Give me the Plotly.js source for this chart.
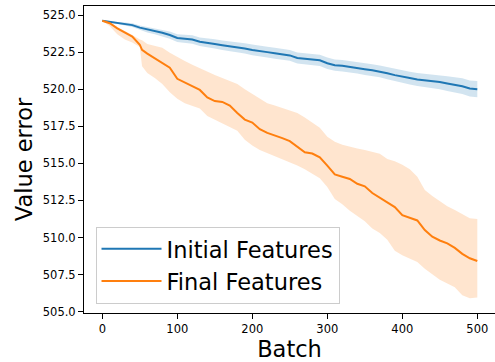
<!DOCTYPE html>
<html>
<head>
<meta charset="utf-8">
<script src="https://cdn.plot.ly/plotly-3.0.1.min.js"></script>
<style>
  html, body { margin: 0; padding: 0; background: #ffffff; overflow: hidden; }
  #chart { width: 495px; height: 362px; }
</style>
</head>
<body>
<div id="chart"></div>
<script>
// Batch index at which each value was recorded
const batches = [0, 10, 20, 30, 40, 50, 53, 60, 70, 80, 90, 100, 110, 120, 130, 140, 150,
  160, 170, 180, 190, 200, 210, 220, 230, 240, 250, 260, 270, 280, 290, 300, 310, 320,
  330, 340, 350, 360, 370, 380, 390, 400, 410, 420, 430, 440, 450, 460, 470, 480, 490, 500];

// Initial features: mean value error and spread
const initialMean = [524.62, 524.55, 524.45, 524.40, 524.32, 524.15, 524.12, 524.00, 523.90,
  523.80, 523.65, 523.45, 523.40, 523.35, 523.20, 523.10, 523.05, 522.97, 522.90, 522.85,
  522.75, 522.65, 522.55, 522.50, 522.42, 522.35, 522.28, 522.10, 522.05, 522.00, 521.95,
  521.75, 521.62, 521.58, 521.52, 521.45, 521.35, 521.28, 521.20, 521.08, 520.95, 520.83,
  520.75, 520.65, 520.60, 520.52, 520.48, 520.38, 520.30, 520.20, 520.05, 520.00];
const initialUpper = [524.62, 524.60, 524.53, 524.50, 524.44, 524.30, 524.27, 524.18, 524.10,
  524.02, 523.89, 523.71, 523.67, 523.63, 523.49, 523.40, 523.36, 523.29, 523.23, 523.19,
  523.10, 523.01, 522.91, 522.86, 522.79, 522.72, 522.65, 522.47, 522.43, 522.38, 522.33,
  522.13, 522.00, 521.97, 521.91, 521.84, 521.75, 521.68, 521.60, 521.49, 521.36, 521.25,
  521.18, 521.09, 521.05, 520.98, 520.96, 520.88, 520.81, 520.73, 520.59, 520.55];
const initialLower = [524.62, 524.50, 524.37, 524.30, 524.20, 524.00, 523.97, 523.82, 523.70,
  523.58, 523.41, 523.19, 523.13, 523.07, 522.91, 522.80, 522.74, 522.65, 522.57, 522.51,
  522.40, 522.29, 522.19, 522.14, 522.05, 521.98, 521.91, 521.73, 521.67, 521.62, 521.57,
  521.37, 521.24, 521.19, 521.13, 521.06, 520.95, 520.88, 520.80, 520.67, 520.54, 520.41,
  520.32, 520.21, 520.15, 520.06, 520.00, 519.88, 519.79, 519.67, 519.51, 519.45];

// Final features: mean value error and spread
const finalMean = [524.62, 524.45, 524.10, 523.85, 523.55, 523.00, 522.65, 522.40, 522.07,
  521.75, 521.45, 520.70, 520.45, 520.25, 519.95, 519.45, 519.20, 519.14, 518.90, 518.40,
  517.95, 517.75, 517.30, 517.05, 516.90, 516.70, 516.50, 516.10, 515.75, 515.66, 515.40,
  514.85, 514.25, 514.10, 513.95, 513.62, 513.45, 513.00, 512.70, 512.40, 512.05, 511.50,
  511.30, 511.15, 510.50, 510.05, 509.80, 509.60, 509.30, 508.90, 508.60, 508.42];
const finalUpper = [524.62, 524.50, 524.20, 523.95, 523.65, 523.35, 523.30, 523.05, 522.90,
  522.80, 522.45, 522.15, 521.90, 521.65, 521.40, 521.15, 520.95, 520.75, 520.55, 520.35,
  520.00, 519.70, 519.35, 519.05, 518.90, 518.75, 518.60, 518.40, 518.10, 517.75, 517.40,
  516.80, 516.45, 516.25, 516.10, 516.00, 515.90, 515.75, 515.65, 515.30, 515.15, 514.90,
  514.60, 514.10, 513.20, 512.80, 512.45, 512.10, 511.85, 511.55, 511.30, 511.25];
const finalLower = [524.62, 524.25, 523.70, 523.35, 523.15, 522.85, 521.55, 521.10, 520.75,
  520.35, 519.80, 519.35, 519.05, 518.85, 518.70, 518.20, 517.95, 517.70, 517.45, 517.20,
  516.60, 516.20, 515.90, 515.70, 515.45, 515.25, 515.05, 514.85, 514.60, 514.30, 514.00,
  513.40, 512.60, 512.25, 511.80, 511.45, 511.10, 510.60, 510.30, 509.85, 509.10, 508.80,
  508.55, 508.35, 507.90, 507.50, 507.15, 506.90, 506.65, 506.10, 505.90, 505.95];

const seriesNames = ['Initial Features', 'Final Features'];
const lineColors = ['#1f77b4', '#ff7f0e'];
const bandColors = ['rgba(31,119,180,0.2)', 'rgba(255,127,14,0.2)'];

function band(upper, lower, color) {
  return [
    { x: batches, y: upper, type: 'scatter', mode: 'lines', line: { width: 0 },
      showlegend: false, hoverinfo: 'skip' },
    { x: batches, y: lower, type: 'scatter', mode: 'lines', line: { width: 0 },
      fill: 'tonexty', fillcolor: color, showlegend: false, hoverinfo: 'skip' }
  ];
}

function meanLine(y, name, color) {
  return { x: batches, y: y, type: 'scatter', mode: 'lines', name: name,
    line: { color: color, width: 2 } };
}

const data = [
  ...band(initialUpper, initialLower, bandColors[0]),
  meanLine(initialMean, seriesNames[0], lineColors[0]),
  ...band(finalUpper, finalLower, bandColors[1]),
  meanLine(finalMean, seriesNames[1], lineColors[1])
];

const axisCommon = {
  showline: true, linecolor: '#000000', linewidth: 1,
  ticks: 'outside', ticklen: 5, tickwidth: 1, tickcolor: '#000000',
  showgrid: false, zeroline: false,
  tickfont: { size: 11.5, color: '#000000' }
};

const layout = {
  width: 495, height: 362,
  margin: { l: 84, r: 0, t: 6, b: 49 },
  paper_bgcolor: '#ffffff', plot_bgcolor: '#ffffff',
  font: { family: 'DejaVu Sans, sans-serif', color: '#000000' },
  showlegend: true,
  legend: {
    x: 0.028, y: 0.281, xanchor: 'left', yanchor: 'top', traceorder: 'normal',
    bgcolor: 'rgba(255,255,255,0.8)', bordercolor: '#cccccc', borderwidth: 1,
    font: { size: 22.5, color: '#000000' }, itemwidth: 60
  },
  xaxis: Object.assign({}, axisCommon, {
    range: [-24.4, 523.6], tick0: 0, dtick: 100, mirror: true,
    title: { text: 'Batch', font: { size: 22.5 }, standoff: 6 }
  }),
  yaxis: Object.assign({}, axisCommon, {
    range: [504.91, 525.61], tick0: 505, dtick: 2.5, tickformat: '.1f',
    title: { text: 'Value error', font: { size: 22.5 }, standoff: 3 }
  })
};

Plotly.newPlot('chart', data, layout, { staticPlot: true, displayModeBar: false });
</script>
</body>
</html>
